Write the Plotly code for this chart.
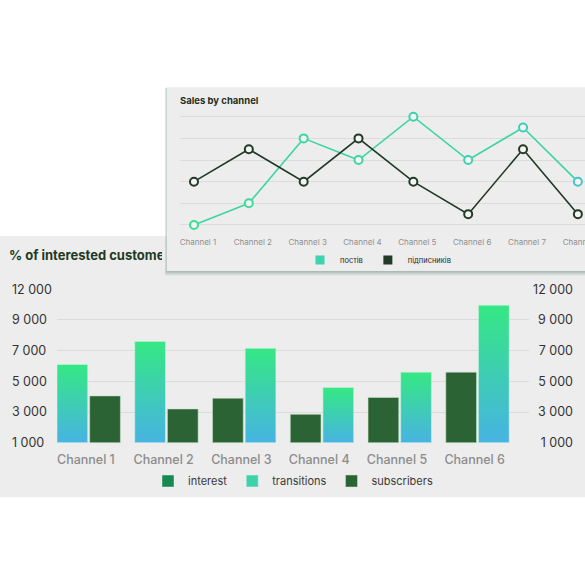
import numpy as np
import plotly.graph_objects as go

# ---------------- data ----------------
# top card: "Sales by channel"
sales_channels = ["Channel 1", "Channel 2", "Channel 3", "Channel 4",
                  "Channel 5", "Channel 6", "Channel 7", "Channel 8"]
posts = [0, 20, 80, 60, 100, 60, 90, 40]
followers = [40, 70, 40, 80, 40, 10, 70, 10]
sales_grid = [0, 20, 40, 60, 80, 100]

# bottom panel: "% of interested customers"
channels = ["Channel 1", "Channel 2", "Channel 3", "Channel 4", "Channel 5", "Channel 6"]
interest = [None, None, None, None, None, None]
transitions = [6100, 7600, 7150, 4600, 5600, 10450]
subscribers = [4050, 3200, 3900, 2850, 3950, 5600]
transitions_left = [True, True, False, False, False, False]
y_ticks = [1000, 3000, 5000, 7000, 9000, 12000]
y_ticktext = ["1 000", "3 000", "5 000", "7 000", "9 000", "12 000"]

# ---------------- helpers ----------------
W = H = 585
FONT = "Inter"
BG = "#ededed"


def fx(p):
    return p / W


def fy(p):
    return 1 - p / H


tick_pos = list(range(len(y_ticks)))


def ypos(v):
    # the value axis uses evenly spaced (non-linear) tick labels
    return float(np.interp(v, y_ticks, tick_pos))


fig = go.Figure()

# ---------------- top chart ----------------
teal_marks = ["#3bdf93", "#3cdb98", "#3cd89e", "#3dd6a3", "#3ed3a8",
              "#40d0af", "#42ccb8", "#45c6c4"]
fig.add_trace(go.Scatter(
    x=sales_channels, y=posts, mode="lines+markers", xaxis="x", yaxis="y",
    line=dict(color="#3dd5a3", width=1.6),
    marker=dict(symbol="circle", size=8, color="#f4f4f4",
                line=dict(color=teal_marks, width=2)),
    showlegend=False, hoverinfo="skip", cliponaxis=False))
fig.add_trace(go.Scatter(
    x=sales_channels, y=followers, mode="lines+markers", xaxis="x", yaxis="y",
    line=dict(color="#223a27", width=1.6),
    marker=dict(symbol="circle", size=8, color="#f4f4f4",
                line=dict(color="#223a27", width=2)),
    showlegend=False, hoverinfo="skip", cliponaxis=False))
# legend squares for the top chart
fig.add_trace(go.Scatter(x=[None], y=[None], mode="markers", name="постів",
                         marker=dict(symbol="square", size=9, color="#3dd3b0"),
                         xaxis="x", yaxis="y", legend="legend2"))
fig.add_trace(go.Scatter(x=[None], y=[None], mode="markers", name="підписників",
                         marker=dict(symbol="square", size=9, color="#223a27"),
                         xaxis="x", yaxis="y", legend="legend2"))

# ---------------- bottom chart ----------------
bar_w = 0.395
left_off, right_off = -0.41, 0.01
x_idx = list(range(len(channels)))

fig.add_trace(go.Bar(x=x_idx, y=interest, name="interest", marker_color="#168a4f",
                     xaxis="x2", yaxis="y2", hoverinfo="skip"))
fig.add_trace(go.Bar(x=[None], y=[None], name="transitions", marker_color="#3ed2ab",
                     xaxis="x2", yaxis="y2", hoverinfo="skip"))

for i, v in enumerate(transitions):
    x0 = i + (left_off if transitions_left[i] else right_off)
    x1 = x0 + bar_w
    top = ypos(v)
    fig.add_trace(go.Scatter(
        x=[x0, x0, x1, x1, x0], y=[0, top, top, 0, 0], mode="lines",
        fill="toself",
        fillgradient=dict(type="vertical",
                          colorscale=[[0, "#47b3e3"], [1, "#35e883"]]),
        line=dict(width=1, color="rgba(200,240,225,0.6)"),
        xaxis="x2", yaxis="y2", showlegend=False, hoverinfo="skip"))

fig.add_trace(go.Bar(
    x=x_idx, y=[ypos(v) for v in subscribers], base=0, name="subscribers",
    offset=[right_off if t else left_off for t in transitions_left], width=bar_w,
    marker=dict(color="#2c6334", line=dict(color="rgba(200,230,205,0.55)", width=1)),
    xaxis="x2", yaxis="y2", hoverinfo="skip"))

# carriers for the left / right value-axis labels
fig.add_trace(go.Scatter(x=[None], y=[None], xaxis="x2", yaxis="y3", showlegend=False))
fig.add_trace(go.Scatter(x=[None], y=[None], xaxis="x2", yaxis="y4", showlegend=False))

# ---------------- shapes: panels & card ----------------
shapes = [
    dict(type="rect", xref="paper", yref="paper", x0=0, x1=1, y0=fy(497), y1=fy(236),
         fillcolor=BG, line_width=0, layer="below"),
]
for k, a in [(5, 0.05), (4, 0.07), (3, 0.09), (2, 0.11), (1, 0.13)]:
    shapes.append(dict(type="rect", xref="paper", yref="paper",
                       x0=fx(166.7 - k * 0.4), x1=1, y0=fy(271 + k), y1=fy(88),
                       fillcolor=f"rgba(70,105,100,{a})", line_width=0, layer="below"))
shapes.append(dict(type="rect", xref="paper", yref="paper",
                   x0=fx(166.7), x1=1, y0=fy(271), y1=fy(87.3),
                   fillcolor=BG, line_width=0, layer="below"))

annotations = [
    dict(text="<b>Sales by channel</b>", xref="paper", yref="paper",
         x=fx(178), y=fy(100), xanchor="left", yanchor="middle", showarrow=False,
         font=dict(family=FONT, size=9.5, color="#1f2f22")),
    dict(text="<b>% of interested customers</b>", xref="paper", yref="paper",
         x=fx(7), y=fy(255), xanchor="left", yanchor="middle", showarrow=False,
         width=153, align="left",
         font=dict(family=FONT, size=13, color="#1e3a24")),
]

# value-axis label axes: same scale as y2, one unit more room on each side
unit_px = (443.3 - 288.7) / 5.04
lab_dom = [fy(443.3 + unit_px), fy(288.7 - unit_px)]
lab_rng = [-1.02, 6.02]

fig.update_layout(
    width=W, height=H, autosize=False,
    margin=dict(l=0, r=0, t=0, b=0, autoexpand=False),
    paper_bgcolor="white", plot_bgcolor="rgba(0,0,0,0)",
    font=dict(family=FONT),
    barmode="overlay", shapes=shapes, annotations=annotations,
    xaxis=dict(domain=[fx(180), 1], range=[-0.255, 7.13], anchor="y", automargin=False,
               showgrid=False, zeroline=False, showline=False, ticks="",
               ticklabelshift=4,
               tickfont=dict(size=8, color="#8f8f8f", family=FONT)),
    yaxis=dict(domain=[fy(235.8), fy(105.9)], range=[-10, 110], anchor="x",
               automargin=False, tickvals=sales_grid, showticklabels=False,
               gridcolor="#dcdcdc", gridwidth=1, zeroline=False),
    xaxis2=dict(domain=[fx(57), fx(529)], range=[-0.41, 5.66], anchor="y2",
                automargin=False, tickvals=x_idx, ticktext=channels, showgrid=False,
                zeroline=False, ticks="", ticklabelshift=-3, ticklabelstandoff=7,
                tickfont=dict(size=12.5, color="#8c8c8c", family=FONT, weight=500)),
    yaxis2=dict(domain=[fy(443.3), fy(288.7)], range=[-0.02, 5.02], anchor="x2",
                automargin=False, tickvals=tick_pos, showticklabels=False,
                gridcolor="#dcdcdc", gridwidth=1, zeroline=False),
    yaxis3=dict(domain=lab_dom, anchor="free", position=fx(8), side="left",
                automargin=False, range=lab_rng, tickvals=tick_pos, ticktext=y_ticktext,
                ticklabelposition="inside", showgrid=False, zeroline=False, ticks="",
                tickfont=dict(size=12.5, color="#333333", family=FONT)),
    yaxis4=dict(domain=lab_dom, anchor="free", position=fx(576), side="right",
                automargin=False, range=lab_rng, tickvals=tick_pos, ticktext=y_ticktext,
                ticklabelposition="inside", showgrid=False, zeroline=False, ticks="",
                tickfont=dict(size=12.5, color="#333333", family=FONT)),
    legend=dict(orientation="h", x=fx(293), xanchor="center", y=fy(481),
                yanchor="middle", bgcolor="rgba(0,0,0,0)",
                font=dict(size=11, color="#3a3a3a", family=FONT),
                traceorder="normal"),
    legend2=dict(orientation="h", x=fx(378), xanchor="center", y=fy(260),
                 yanchor="middle", bgcolor="rgba(0,0,0,0)",
                 font=dict(size=7.5, color="#2a2a2a", family=FONT)),
    showlegend=True,
)

fig.write_html(
    "out.html",
    config={"responsive": False, "displayModeBar": False},
    post_script=("document.documentElement.style.overflow='hidden';"
                 "document.body.style.overflow='hidden';"
                 "document.body.style.margin='0';"),
)
